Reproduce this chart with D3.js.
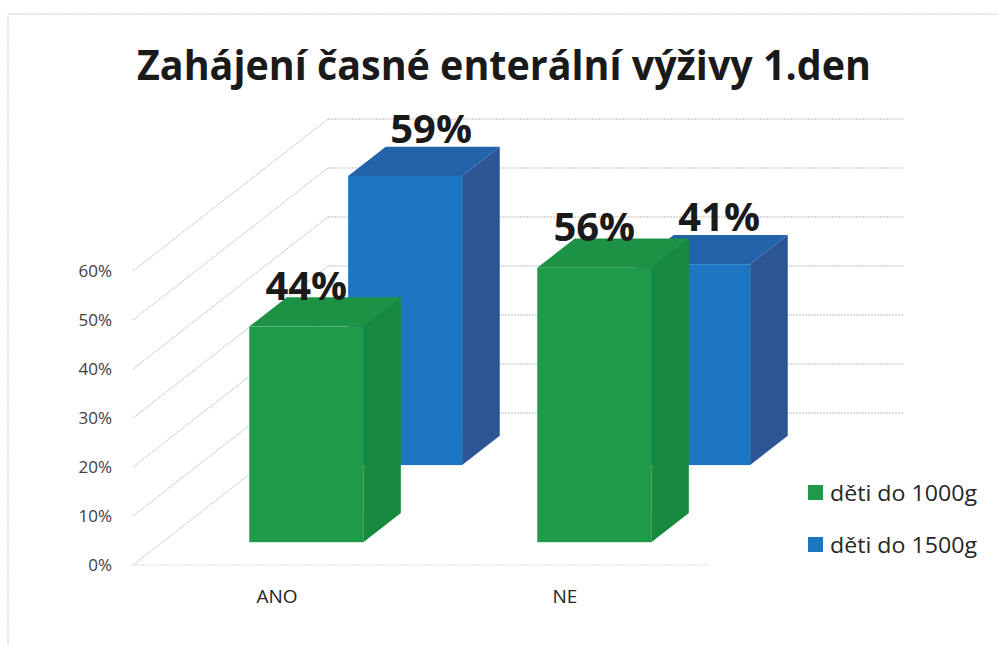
<!DOCTYPE html>
<html>
<head>
<meta charset="utf-8">
<script src="https://cdn.jsdelivr.net/npm/d3@7/dist/d3.min.js"></script>
<style>
  html, body { margin: 0; padding: 0; background: #fff; }
  svg { display: block; }
</style>
</head>
<body>
<svg id="chart" width="998" height="645"></svg>
<script>
// ---- data ----
const title = "Zahájení časné enterální výživy 1.den";
const categories = ["ANO", "NE"];
const seriesNames = ["děti do 1000g", "děti do 1500g"];
const valuesGreen = [44, 56];   // děti do 1000g
const valuesBlue = [59, 41];    // děti do 1500g
const yTicks = [0, 10, 20, 30, 40, 50, 60];
const yTickLabels = ["0%", "10%", "20%", "30%", "40%", "50%", "60%"];

// ---- layout ----
const W = 998, H = 645;
const svg = d3.select("#chart");
const FONT = "'Open Sans', 'DejaVu Sans', sans-serif";

const floorY = 565;        // front floor line
const DX = 195, DY = -152; // full depth vector (oblique projection)
const barW = 114;

const x = d3.scaleBand().domain(categories).range([133, 709]);
const h = d3.scaleLinear().domain([0, 60]).range([0, 294]);
const depth = d3.scaleBand().domain(seriesNames).range([0, 1])
  .paddingInner(0.62).paddingOuter(0.296);

const colors = {
  "děti do 1000g": { front: "#1f9a48", top: "#1b9244", side: "#17893e", legend: "#1f9a48" },
  "děti do 1500g": { front: "#1c76c1", top: "#2363a9", side: "#2c5693", legend: "#1c76c1" }
};

// chart border
svg.append("path")
  .attr("d", `M8,${H} V14 H${W}`)
  .attr("fill", "none").attr("stroke", "#c8c8c8")
  .attr("stroke-width", 1).attr("stroke-dasharray", "2,1");

// title
svg.append("text")
  .attr("x", 504).attr("y", 80)
  .attr("text-anchor", "middle")
  .attr("font-family", FONT).attr("font-weight", 700)
  .attr("font-size", 42).attr("fill", "#1a1a1a")
  .attr("textLength", 734).attr("lengthAdjust", "spacingAndGlyphs")
  .text(title);

// gridlines: back wall + left wall
const xL = x.range()[0], xR = x.range()[1];
const grid = svg.append("g").attr("stroke", "#bdbdbd").attr("stroke-width", 1)
  .attr("stroke-dasharray", "2,1").attr("fill", "none");
yTicks.forEach(v => {
  const yf = floorY - h(v), yb = floorY + DY - h(v);
  grid.append("line").attr("x1", xL).attr("y1", yf).attr("x2", xL + DX).attr("y2", yb);
  grid.append("line").attr("x1", xL + DX).attr("y1", yb).attr("x2", xR + DX).attr("y2", yb);
});
// front floor edge
grid.append("line").attr("x1", xL).attr("y1", floorY).attr("x2", xR).attr("y2", floorY)
  .attr("stroke", "#d6d6e6");

// y labels
svg.append("g").selectAll("text").data(yTicks).join("text")
  .attr("x", 112).attr("y", v => floorY - h(v) + 6)
  .attr("text-anchor", "end")
  .attr("font-family", FONT).attr("font-size", 17).attr("fill", "#404040")
  .text((v, i) => yTickLabels[i]);

// category labels
svg.append("g").selectAll("text").data(categories).join("text")
  .attr("x", c => x(c) + x.bandwidth() / 2).attr("y", 603)
  .attr("text-anchor", "middle")
  .attr("font-family", FONT).attr("font-size", 19).attr("fill", "#262626")
  .text(c => c);

// bars: draw back row first (blue), then front row (green)
const seriesData = [
  { name: seriesNames[1], values: valuesBlue, labelShift: 26 },
  { name: seriesNames[0], values: valuesGreen, labelShift: 0 }
];
const barsG = svg.append("g");
const labels = [];
seriesData.forEach(s => {
  const d0 = depth(s.name), db = depth.bandwidth();
  const bdx = db * DX, bdy = db * DY;
  const col = colors[s.name];
  categories.forEach((c, i) => {
    const v = s.values[i];
    const cx = x(c) + x.bandwidth() / 2 + d0 * DX;
    const x0 = cx - barW / 2, x1 = cx + barW / 2;
    const yBase = floorY + d0 * DY;
    const yTop = yBase - h(v);
    const g = barsG.append("g");
    g.append("polygon")
      .attr("points", [[x1, yTop], [x1 + bdx, yTop + bdy], [x1 + bdx, yBase + bdy], [x1, yBase]].join(" "))
      .attr("fill", col.side);
    g.append("polygon")
      .attr("points", [[x0, yTop], [x0 + bdx, yTop + bdy], [x1 + bdx, yTop + bdy], [x1, yTop]].join(" "))
      .attr("fill", col.top);
    g.append("rect")
      .attr("x", x0).attr("y", yTop).attr("width", barW).attr("height", h(v))
      .attr("fill", col.front);
    labels.push({ x: cx + s.labelShift, y: yTop + bdy + (s.labelShift ? -4 : 3), text: v + "%" });
  });
});

// data labels
svg.append("g").selectAll("text").data(labels).join("text")
  .attr("x", d => d.x).attr("y", d => d.y)
  .attr("text-anchor", "middle")
  .attr("font-family", FONT).attr("font-weight", 700)
  .attr("font-size", 40).attr("fill", "#1a1a1a")
  .text(d => d.text);

// legend
const legend = svg.append("g").attr("transform", "translate(808,485)");
seriesNames.forEach((n, i) => {
  const g = legend.append("g").attr("transform", `translate(0,${i * 52})`);
  g.append("rect").attr("width", 15).attr("height", 15).attr("fill", colors[n].legend);
  g.append("text").attr("x", 22).attr("y", 16)
    .attr("font-family", FONT).attr("font-size", 22).attr("fill", "#262626")
    .attr("textLength", 147).attr("lengthAdjust", "spacingAndGlyphs")
    .text(n);
});
</script>
</body>
</html>
